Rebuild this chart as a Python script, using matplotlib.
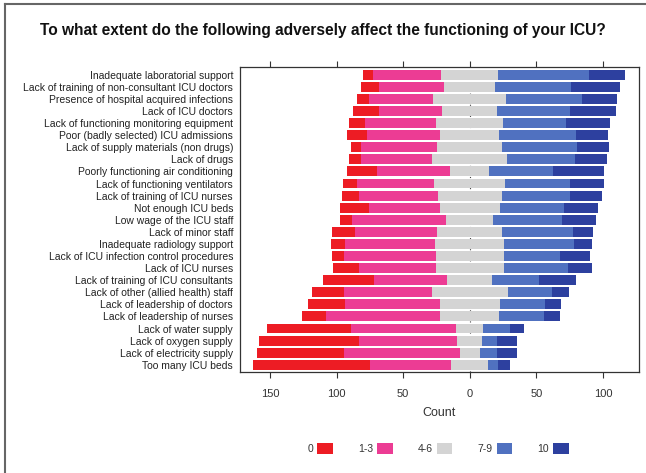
import matplotlib
matplotlib.use("Agg")
import matplotlib.pyplot as plt
from matplotlib.patches import Patch
from matplotlib.lines import Line2D
import numpy as np

plt.rcParams['font.family'] = ['Liberation Sans', 'DejaVu Sans']

# items, top to bottom
items = [
    "Inadequate laboratorial support",
    "Lack of training of non-consultant ICU doctors",
    "Presence of hospital acquired infections",
    "Lack of ICU doctors",
    "Lack of functioning monitoring equipment",
    "Poor (badly selected) ICU admissions",
    "Lack of supply materials (non drugs)",
    "Lack of drugs",
    "Poorly functioning air conditioning",
    "Lack of functioning ventilators",
    "Lack of training of ICU nurses",
    "Not enough ICU beds",
    "Low wage of the ICU staff",
    "Lack of minor staff",
    "Inadequate radiology support",
    "Lack of ICU infection control procedures",
    "Lack of ICU nurses",
    "Lack of training of ICU consultants",
    "Lack of other (allied health) staff",
    "Lack of leadership of doctors",
    "Lack of leadership of nurses",
    "Lack of water supply",
    "Lack of oxygen supply",
    "Lack of electricity supply",
    "Too many ICU beds",
]

# counts per answer category
n_0 = [8, 14, 9, 19, 12, 15, 8, 9, 23, 11, 13, 22, 9, 17, 10, 9, 19, 38, 24, 28, 18, 63, 75, 65, 88]
n_1_3 = [51, 49, 48, 48, 54, 55, 57, 54, 55, 58, 59, 53, 71, 62, 68, 69, 58, 55, 66, 71, 86, 79, 74, 87, 61]
n_4_6 = [43, 38, 55, 41, 50, 44, 49, 56, 29, 53, 48, 45, 35, 49, 52, 51, 51, 34, 57, 45, 44, 20, 19, 15, 28]
n_7_9 = [68, 57, 57, 55, 47, 58, 56, 51, 48, 49, 51, 48, 52, 53, 52, 42, 48, 35, 33, 34, 34, 20, 11, 13, 7]
n_10 = [27, 37, 26, 34, 33, 24, 24, 24, 38, 25, 24, 26, 25, 15, 14, 23, 18, 28, 13, 12, 12, 11, 15, 15, 9]

categorias = ["0", "1-3", "4-6", "7-9", "10"]
colores = ["#ED1C24", "#EC3C94", "#D4D4D4", "#5071C0", "#2D409F"]

fig = plt.figure(figsize=(6.46, 4.73), dpi=100)
ax = fig.add_axes([0.3715, 0.2135, 0.6175, 0.645])

y = np.arange(len(items))[::-1]
c0, c1, c2, c3, c4 = [np.array(v, dtype=float) for v in (n_0, n_1_3, n_4_6, n_7_9, n_10)]

mitad = c2 / 2.0
h = 0.82
ax.barh(y, c2, left=-mitad, height=h, color=colores[2], zorder=2)
ax.barh(y, c1, left=-mitad - c1, height=h, color=colores[1], zorder=2)
ax.barh(y, c0, left=-mitad - c1 - c0, height=h, color=colores[0], zorder=2)
ax.barh(y, c3, left=mitad, height=h, color=colores[3], zorder=2)
ax.barh(y, c4, left=mitad + c3, height=h, color=colores[4], zorder=2)

ax.axvline(0, color="#444444", lw=0.8, ls=(0, (1, 4)), zorder=1)

ax.set_xlim(-172.5, 127)
ax.set_ylim(-0.6, len(items) - 0.35)
ax.set_yticks(y)
ax.set_yticklabels(items, fontsize=7.5, color="#222222")
ax.tick_params(axis='y', length=0, pad=5)
ax.set_xticks([-150, -100, -50, 0, 50, 100])
ax.set_xticklabels(["150", "100", "50", "0", "50", "100"])
ax.tick_params(axis='x', top=True, direction='out', length=4, width=0.8,
               labelsize=8, labelcolor="#333333", color="#333333", pad=8)
ax.set_xlabel("Count", fontsize=9, color="#333333", labelpad=6)
for s in ax.spines.values():
    s.set_color("#333333")
    s.set_linewidth(0.9)

fig.text(0.5, 1 - 31 / 473, "To what extent do the following adversely affect the functioning of your ICU?",
         ha='center', va='center', fontsize=11.2, fontweight='bold', color="#111111")

handles = [Patch(facecolor=c, edgecolor='none') for c in colores]
fig.legend(handles, categorias, loc='center', bbox_to_anchor=(0.678, 0.051), ncol=5,
           frameon=False, markerfirst=False, fontsize=7.5, handlelength=1.5,
           handleheight=1.2, columnspacing=2.4, handletextpad=0.4, labelcolor="#333333")

# marco exterior
fig.add_artist(Line2D([5 / 646, 5 / 646], [0, 1 - 4 / 473], transform=fig.transFigure, color="#666666", lw=1.5))
fig.add_artist(Line2D([5 / 646, 1], [1 - 4 / 473, 1 - 4 / 473], transform=fig.transFigure, color="#666666", lw=1.5))

fig.savefig("out.png", dpi=100)
